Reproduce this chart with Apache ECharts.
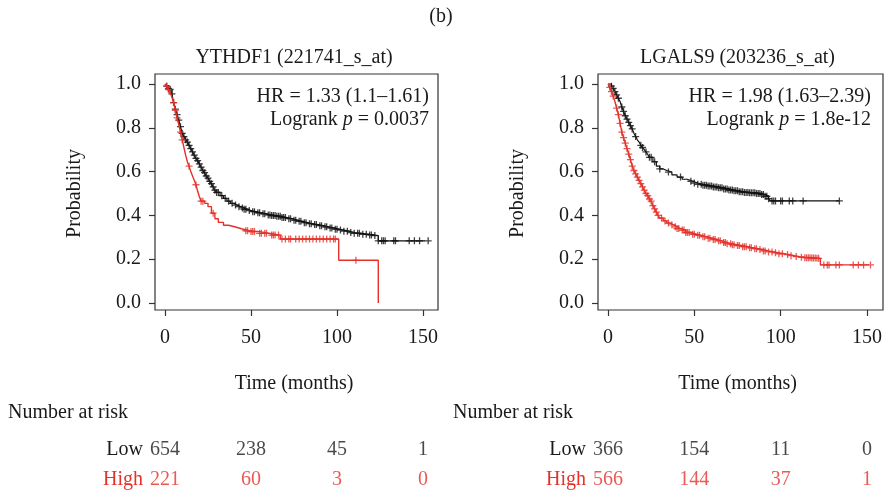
<!DOCTYPE html>
<html><head><meta charset="utf-8">
<script src="https://cdn.jsdelivr.net/npm/echarts/dist/echarts.min.js"></script>
<style>html,body{margin:0;padding:0;background:#fff}#c{width:885px;height:496px}</style>
</head><body><div id="c"></div>
<script>
// ---------- data ----------
const timeTicks = [0, 50, 100, 150];
const riskRows = ['High', 'Low'];
const riskTimes = [0, 50, 100, 150];

// Panel 1: YTHDF1 (221741_s_at)
const p1Title = 'YTHDF1 (221741_s_at)';
const p1HR = '1.33 (1.1\u20131.61)';
const p1P = '0.0037';
const p1LowSteps = [[0,1.0],[1,0.99],[2,0.98],[3,0.975],[4,0.955],[5,0.915],[6,0.885],[7,0.86],[8,0.835],[9,0.805],[10,0.775],[11,0.76],[12,0.745],[13,0.735],[14,0.72],[15,0.705],[16,0.69],[17,0.675],[18,0.66],[19,0.65],[20,0.635],[21,0.62],[22,0.605],[23,0.595],[24,0.58],[25,0.57],[26,0.555],[27,0.545],[28,0.53],[29,0.515],[30,0.505],[32,0.49],[34,0.478],[36,0.465],[38,0.455],[40,0.447],[42,0.44],[44,0.434],[46,0.428],[48,0.422],[50,0.417],[53,0.412],[56,0.407],[59,0.402],[62,0.399],[65,0.396],[68,0.39],[71,0.385],[74,0.378],[77,0.373],[80,0.367],[83,0.362],[86,0.358],[89,0.353],[92,0.348],[95,0.343],[98,0.337],[101,0.333],[104,0.328],[107,0.322],[110,0.318],[114,0.314],[118,0.311],[121,0.308],[124,0.284]];
const p1HighSteps = [[0,1.0],[1,0.99],[2,0.975],[3,0.96],[4,0.94],[5,0.915],[6,0.88],[7,0.845],[8,0.815],[9,0.78],[10,0.745],[11,0.71],[12,0.675],[13,0.645],[14,0.625],[15,0.6],[16,0.58],[17,0.56],[18,0.54],[19,0.51],[20,0.485],[21,0.465],[23,0.455],[25,0.44],[27,0.41],[29,0.385],[31,0.368],[34,0.355],[37,0.347],[41,0.338],[45,0.33],[49,0.326],[55,0.318],[61,0.31],[67,0.292],[101,0.195],[124,0.0]];
const p1LowCensor = [1,2,3,4,5,6,7,8,9,10,11,12,13,14,15,16,17,18,19,20,21,22,23,24,25,26,27,28,29,30,31,33,35,37,39,41,43,45,46,47,49,51,52,54,55,57,58,60,61,62,63,64,65,66,67,68,69,70,72,73,75,76,78,79,81,82,84,85,87,88,90,91,93,94,96,97,99,100,102,104,106,108,110,112,113,115,117,119,120,122,124,126,127,128,133,134,142,145,148,153];
const p1HighCensor = [1,2,5,6,7,9,10,14,18,21,22,28,47,48,50,51,52,55,56,58,59,62,63,64,66,68,70,72,73,76,78,80,82,84,86,88,90,92,94,96,98,99,111];
const p1RiskLow = [654, 238, 45, 1];
const p1RiskHigh = [221, 60, 3, 0];

// Panel 2: LGALS9 (203236_s_at)
const p2Title = 'LGALS9 (203236_s_at)';
const p2HR = '1.98 (1.63\u20132.39)';
const p2P = '1.8e-12';
const p2LowSteps = [[0,1.0],[2,0.99],[3,0.98],[4,0.965],[5,0.95],[6,0.935],[7,0.92],[8,0.895],[9,0.875],[10,0.855],[11,0.84],[12,0.825],[13,0.81],[14,0.795],[15,0.775],[16,0.76],[17,0.745],[18,0.735],[19,0.72],[20,0.71],[21,0.7],[22,0.69],[23,0.678],[24,0.665],[26,0.645],[28,0.625],[30,0.612],[32,0.605],[34,0.598],[37,0.585],[40,0.575],[43,0.565],[46,0.556],[49,0.548],[52,0.542],[55,0.538],[58,0.534],[61,0.53],[64,0.526],[67,0.521],[70,0.516],[73,0.512],[76,0.508],[79,0.505],[82,0.503],[86,0.5],[89,0.495],[91,0.487],[93,0.476],[94,0.466]];
const p2HighSteps = [[0,1.0],[1,0.985],[2,0.965],[3,0.945],[4,0.92],[5,0.89],[6,0.86],[7,0.82],[8,0.78],[9,0.755],[10,0.73],[11,0.705],[12,0.68],[13,0.655],[14,0.625],[15,0.605],[16,0.59],[17,0.575],[18,0.56],[19,0.545],[20,0.53],[21,0.515],[22,0.5],[23,0.49],[24,0.475],[25,0.465],[26,0.445],[27,0.43],[28,0.415],[29,0.4],[30,0.388],[32,0.375],[34,0.365],[36,0.357],[38,0.348],[40,0.34],[42,0.333],[45,0.322],[48,0.314],[51,0.309],[54,0.303],[57,0.296],[60,0.29],[63,0.284],[66,0.276],[69,0.27],[72,0.266],[75,0.262],[78,0.257],[81,0.252],[84,0.248],[87,0.244],[90,0.238],[93,0.233],[96,0.229],[99,0.225],[102,0.221],[105,0.216],[108,0.212],[111,0.209],[114,0.207],[118,0.205],[121,0.204],[123,0.174]];
const p2LowCensor = [2,3,4,5,6,8,9,10,11,12,13,14,16,19,20,22,24,25,27,30,35,42,48,50,52,54,55,56,57,58,59,60,61,62,63,64,65,66,67,68,69,70,71,72,73,74,75,76,77,78,79,80,81,82,83,84,85,86,87,88,89,90,91,92,93,95,96,97,100,101,105,107,113,134];
const p2HighCensor = [1,2,3,5,6,7,8,9,10,11,12,13,14,15,16,17,18,19,20,21,22,23,24,25,26,27,28,29,31,33,35,37,39,40,41,43,44,45,46,47,49,50,52,53,55,56,58,59,61,62,64,65,67,68,69,71,72,73,75,76,78,79,80,82,83,85,86,88,90,91,93,95,97,99,101,104,106,109,112,114,115,116,117,118,119,120,121,122,125,127,128,132,134,142,145,148,152];
const p2RiskLow = [366, 154, 11, 0];
const p2RiskHigh = [566, 144, 37, 1];

// ---------- styling ----------
const RED = '#e5312a';
const BLACK = '#111';
const FONT = 'Liberation Serif';
const TXT = '#1a1a1a';
const AX = '#333';

function survAt(steps, t) {
  let s = steps[0][1];
  for (const p of steps) { if (p[0] <= t) s = p[1]; else break; }
  return s;
}
function lineData(steps, censor) {
  const d = steps.slice();
  const last = censor[censor.length - 1];
  const lastT = d[d.length - 1][0];
  if (last > lastT) d.push([last, d[d.length - 1][1]]);
  return d;
}
const PLUS = 'path://M0,5L10,5M5,0L5,10';

const grids = [], xAxes = [], yAxes = [], series = [], titles = [];
const hidden = (g, extra) => Object.assign({gridIndex: g, type: 'value', show: false}, extra || {});

function panel(geo, title, hr, p, lowSteps, highSteps, lowCen, highCen, riskLow, riskHigh) {
  const g = grids.length;
  // 0: data area, 1: frame, 2: risk table, 3: x tick strip (bottom at frame edge), 4: y tick strip
  grids.push({left: geo.left, top: 84, width: geo.width, height: 219, show: false});
  grids.push({left: geo.boxLeft, top: 74, width: geo.boxWidth, height: 236, show: true,
    borderColor: AX, borderWidth: 1.2, backgroundColor: 'transparent'});
  grids.push({left: geo.left, top: 435, width: geo.width, height: 60, show: false});
  grids.push({left: geo.left, top: 300, width: geo.width, height: 10, show: false});
  grids.push({left: geo.boxLeft, top: 84, width: 10, height: 219, show: false});
  const a = xAxes.length;
  // x axes
  xAxes.push(hidden(g, {min: 0, max: 150}));
  xAxes.push(hidden(g + 1, {min: 0, max: 1}));
  xAxes.push(hidden(g + 2, {min: 0, max: 150}));
  xAxes.push({gridIndex: g + 3, type: 'value', min: 0, max: 150, interval: 50, position: 'bottom',
    name: 'Time (months)', nameLocation: 'middle', nameGap: 64,
    nameTextStyle: {fontFamily: FONT, fontSize: 20, color: TXT},
    axisLine: {show: false}, splitLine: {show: false},
    axisTick: {show: true, inside: false, length: 6, lineStyle: {color: AX, width: 1.2}},
    axisLabel: {fontFamily: FONT, fontSize: 20, color: TXT, margin: 18}});
  xAxes.push(hidden(g + 4, {min: 0, max: 1}));
  // y axes
  yAxes.push(hidden(g, {min: 0, max: 1}));
  yAxes.push(hidden(g + 1, {min: 0, max: 1}));
  yAxes.push({gridIndex: g + 2, type: 'category', data: riskRows, boundaryGap: true,
    axisLine: {show: false}, axisTick: {show: false}, splitLine: {show: false},
    axisLabel: {margin: 22, fontFamily: FONT, fontSize: 20,
      formatter: v => v === 'High' ? '{r|High}' : '{k|Low}',
      rich: {r: {color: RED, fontFamily: FONT, fontSize: 20}, k: {color: TXT, fontFamily: FONT, fontSize: 20}}}});
  yAxes.push(hidden(g + 3, {min: 0, max: 1}));
  yAxes.push({gridIndex: g + 4, type: 'value', min: 0, max: 1, interval: 0.2, position: 'left',
    name: 'Probability', nameLocation: 'middle', nameGap: 70,
    nameTextStyle: {fontFamily: FONT, fontSize: 20, color: TXT},
    axisLine: {show: false}, splitLine: {show: false},
    axisTick: {show: true, inside: false, length: 6, lineStyle: {color: AX, width: 1.2}},
    axisLabel: {fontFamily: FONT, fontSize: 20, color: TXT, margin: 14, formatter: v => v.toFixed(1)}});

  const base = {xAxisIndex: a, yAxisIndex: a, clip: false};
  series.push(Object.assign({type: 'line', step: 'end', symbol: 'none', data: lineData(lowSteps, lowCen),
    lineStyle: {color: BLACK, width: 1.2}, z: 3}, base));
  series.push(Object.assign({type: 'line', step: 'end', symbol: 'none', data: lineData(highSteps, highCen),
    lineStyle: {color: RED, width: 1.4}, z: 4}, base));
  series.push(Object.assign({type: 'scatter', symbol: PLUS, symbolSize: 7,
    data: lowCen.map(t => [t, survAt(lowSteps, t)]),
    itemStyle: {color: 'none', borderColor: BLACK, borderWidth: 1.3}, z: 3}, base));
  series.push(Object.assign({type: 'scatter', symbol: PLUS, symbolSize: 7,
    data: highCen.map(t => [t, survAt(highSteps, t)]),
    itemStyle: {color: 'none', borderColor: RED, borderWidth: 1.3}, z: 4}, base));
  const rb = {type: 'scatter', xAxisIndex: a + 2, yAxisIndex: a + 2, symbolSize: 0, silent: true};
  series.push(Object.assign({data: riskLow.map((v, i) => [riskTimes[i], 'Low', v]),
    label: {show: true, position: 'inside', formatter: d => String(d.value[2]), fontFamily: FONT, fontSize: 20, color: TXT}}, rb));
  series.push(Object.assign({data: riskHigh.map((v, i) => [riskTimes[i], 'High', v]),
    label: {show: true, position: 'inside', formatter: d => String(d.value[2]), fontFamily: FONT, fontSize: 20, color: RED}}, rb));

  titles.push({text: title, left: geo.left + geo.width / 2, top: 48, textAlign: 'center', padding: 0,
    textStyle: {fontFamily: FONT, fontSize: 20, fontWeight: 'normal', color: TXT}});
  titles.push({text: 'HR = ' + hr + '\nLogrank {i|p} = ' + p, left: geo.hrRight, top: 85,
    textAlign: 'right', padding: 0,
    textStyle: {fontFamily: FONT, fontSize: 20, fontWeight: 'normal', color: TXT, lineHeight: 23, align: 'right',
      rich: {i: {fontFamily: FONT, fontSize: 20, fontStyle: 'italic', color: TXT}}}});
  titles.push({text: 'Number at risk', left: geo.nrLeft, top: 403, padding: 0,
    textStyle: {fontFamily: FONT, fontSize: 20, fontWeight: 'normal', color: TXT}});
}

panel({left: 165, width: 258, boxLeft: 155, boxWidth: 283, nrLeft: 8, hrRight: 429},
  p1Title, p1HR, p1P, p1LowSteps, p1HighSteps, p1LowCensor, p1HighCensor, p1RiskLow, p1RiskHigh);
panel({left: 608, width: 259, boxLeft: 598, boxWidth: 285, nrLeft: 453, hrRight: 871},
  p2Title, p2HR, p2P, p2LowSteps, p2HighSteps, p2LowCensor, p2HighCensor, p2RiskLow, p2RiskHigh);
titles.push({text: '(b)', left: 441, top: 7, textAlign: 'center', padding: 0,
  textStyle: {fontFamily: FONT, fontSize: 20, fontWeight: 'normal', color: TXT}});

const chart = echarts.init(document.getElementById('c'), null, {renderer: 'canvas'});
chart.setOption({animation: false, backgroundColor: '#fff', title: titles, grid: grids,
  xAxis: xAxes, yAxis: yAxes, series: series});
</script></body></html>
